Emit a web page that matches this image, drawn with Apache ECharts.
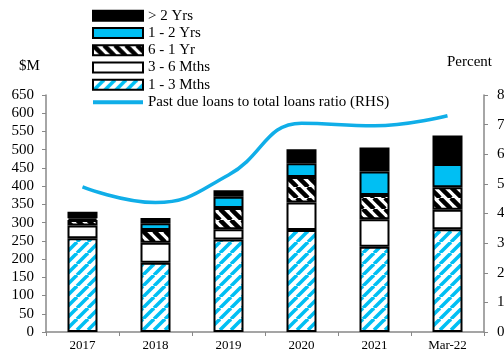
<!DOCTYPE html>
<html>
<head>
<meta charset="utf-8">
<script src="https://cdn.jsdelivr.net/npm/echarts@6/dist/echarts.min.js"></script>
<style>
  html, body { margin: 0; padding: 0; background: #fff; }
  #chart { width: 504px; height: 352px; }
</style>
</head>
<body>
<div id="chart"></div>
<script>
// data
const categories = ["2017", "2018", "2019", "2020", "2021", "Mar-22"];
const m1to3 = [257, 190, 254, 280, 234, 282];
const m3to6 = [35, 55, 28, 75, 75, 53];
const m6to1y = [15, 35, 58, 70, 67, 62];
const y1to2 = [5, 18, 31, 38, 64, 64];
const over2y = [18, 15, 18, 38, 66, 78];
const ratio = [4.9, 4.37, 5.3, 7.05, 6.96, 7.3];
const leftTicks = { min: 0, max: 650, interval: 50 };
const rightTicks = { min: 0, max: 8, interval: 1 };

const CYAN = "#00BFF3";
const LINE = "#10AEE8";
const FONT = '"Liberation Serif", "Times New Roman", serif';
const LINE_NAME = "Past due loans to total loans ratio (RHS)";

// stripe pattern tiles
function stripes(color, width, dir, size) {
  const c = document.createElement("canvas");
  c.width = size; c.height = size;
  const ctx = c.getContext("2d");
  ctx.fillStyle = "#fff";
  ctx.fillRect(0, 0, size, size);
  ctx.strokeStyle = color;
  ctx.lineWidth = width;
  for (let k = -1; k <= 2; k++) {
    ctx.beginPath();
    if (dir === "/") {
      ctx.moveTo(k * size - size, size);
      ctx.lineTo(k * size, 0);
    } else {
      ctx.moveTo(k * size - size, 0);
      ctx.lineTo(k * size, size);
    }
    ctx.stroke();
  }
  return { image: c, repeat: "repeat" };
}

const chart = echarts.init(document.getElementById("chart"));

function barSeries(name, data, color) {
  return {
    name: name,
    type: "bar",
    stack: "loans",
    data: data,
    barWidth: 30,
    itemStyle: { color: color, borderColor: "#000", borderWidth: 2 },
    emphasis: { disabled: true }
  };
}

const option = {
  animation: false,
  textStyle: { fontFamily: FONT },
  grid: { left: 46, right: 20, top: 95, bottom: 20, containLabel: false, outerBoundsMode: "none" },
  legend: {
    orient: "vertical",
    left: 87,
    top: 2,
    itemWidth: 50,
    itemHeight: 10,
    itemGap: 0,
    textStyle: { fontFamily: FONT, fontSize: 15, color: "#000", lineHeight: 17.3 },
    data: [
      { name: "> 2 Yrs", icon: "rect" },
      { name: "1 - 2 Yrs", icon: "rect" },
      { name: "6 - 1 Yr", icon: "rect" },
      { name: "3 - 6 Mths", icon: "rect" },
      { name: "1 - 3 Mths", icon: "rect" },
      { name: LINE_NAME, icon: "path://M0,0H50V4H0Z" }
    ]
  },
  graphic: [
    { type: "text", left: 19, top: 59, style: { text: "$M", font: "15px " + FONT, fill: "#000" } },
    { type: "text", left: 447, top: 55, style: { text: "Percent", font: "15px " + FONT, fill: "#000" } }
  ],
  xAxis: {
    type: "category",
    data: categories,
    axisLine: { lineStyle: { color: "#888", width: 1.5 } },
    axisTick: { show: true, length: 4, lineStyle: { color: "#888" } },
    axisLabel: { fontFamily: FONT, fontSize: 13, color: "#000", margin: 7 }
  },
  yAxis: [
    {
      type: "value",
      min: leftTicks.min, max: leftTicks.max, interval: leftTicks.interval,
      splitLine: { show: false },
      axisLine: { show: true, lineStyle: { color: "#888", width: 1.5 } },
      axisTick: { show: true, length: 4, lineStyle: { color: "#888" } },
      axisLabel: { fontFamily: FONT, fontSize: 15, color: "#000", margin: 12 }
    },
    {
      type: "value",
      min: rightTicks.min, max: rightTicks.max, interval: rightTicks.interval,
      splitLine: { show: false },
      axisLine: { show: true, lineStyle: { color: "#888", width: 1.5 } },
      axisTick: { show: true, length: 4, lineStyle: { color: "#888" } },
      axisLabel: { fontFamily: FONT, fontSize: 15, color: "#000", margin: 13 }
    }
  ],
  series: [
    barSeries("1 - 3 Mths", m1to3, stripes(CYAN, 3.5, "/", 11)),
    barSeries("3 - 6 Mths", m3to6, "#fff"),
    barSeries("6 - 1 Yr", m6to1y, stripes("#000", 4.5, "\\", 11)),
    barSeries("1 - 2 Yrs", y1to2, CYAN),
    barSeries("> 2 Yrs", over2y, "#000"),
    {
      name: LINE_NAME,
      type: "line",
      yAxisIndex: 1,
      data: ratio,
      smooth: 0.45,
      symbol: "none",
      lineStyle: { color: LINE, width: 3.5 },
      itemStyle: { color: LINE },
      emphasis: { disabled: true }
    }
  ]
};

chart.setOption(option);
</script>
</body>
</html>
